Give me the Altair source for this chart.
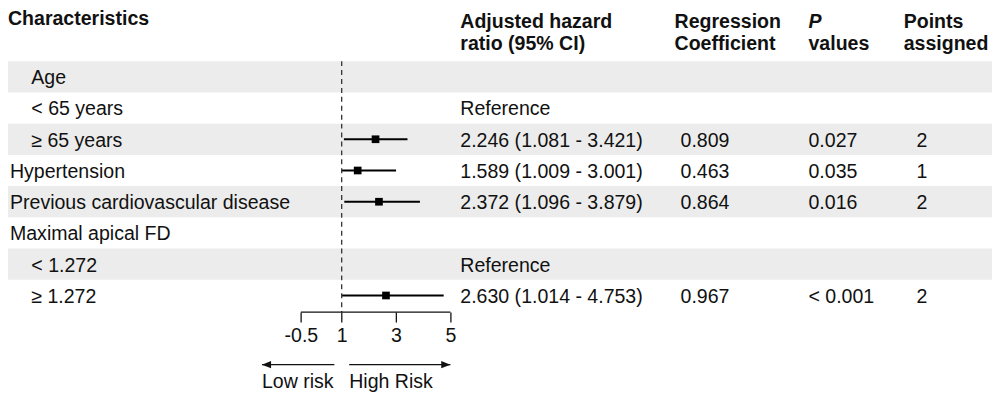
import altair as alt
import pandas as pd

# ---------------- data ----------------
labels = ["Age", "< 65 years", "≥ 65 years", "Hypertension",
          "Previous cardiovascular disease", "Maximal apical FD",
          "< 1.272", "≥ 1.272"]
level = [1, 1, 1, 0, 0, 0, 1, 1]
est = [None, None, 2.246, 1.589, 2.372, None, None, 2.630]
lo = [None, None, 1.081, 1.009, 1.096, None, None, 1.014]
hi = [None, None, 3.421, 3.001, 3.879, None, None, 4.753]
hr_text = ["", "Reference", "2.246 (1.081 - 3.421)", "1.589 (1.009 - 3.001)",
           "2.372 (1.096 - 3.879)", "", "Reference", "2.630 (1.014 - 4.753)"]
coef = ["", "", "0.809", "0.463", "0.864", "", "", "0.967"]
pval = ["", "", "0.027", "0.035", "0.016", "", "", "< 0.001"]
points = ["", "", "2", "1", "2", "", "", "2"]
shaded = [True, False, True, False, True, False, True, False]

header_first = "Characteristics"
header_line1 = ["Adjusted hazard", "Regression", "P", "Points"]
header_line2 = ["ratio (95% CI)", "Coefficient", "values", "assigned"]

tick_values = [-0.5, 1, 3, 5]
ref_value = 1
arrow_start = [0.73, 1.277]
arrow_end = [-1.934, 5.0]
arrow_labels = ["Low risk", "High Risk"]

# ---------------- styling ----------------
FONT = "Liberation Sans"
FS = 19.7
TXT = "#111111"
W, H = 992, 305
X = alt.Scale(domain=[-11.277, 24.927], nice=False, zero=False)
Y_TOP, Y_BOT = -2.1508, 7.5317
Y = alt.Scale(domain=[Y_TOP, Y_BOT], reverse=True, nice=False, zero=False)

n = len(labels)
df = pd.DataFrame({
    "row": list(range(n)),
    "label": labels,
    "level": level,
    "est": est,
    "lo": lo,
    "hi": hi,
    "hr": hr_text,
    "coef": coef,
    "pval": pval,
    "points": points,
    "shaded": shaded,
})
df["y0"] = df["row"] - 0.5
df["y1"] = df["row"] + 0.5

base = alt.Chart(df)

bands = base.transform_filter("datum.shaded").mark_rect(color="#ececec").encode(
    x=alt.value(0), x2=alt.value(W),
    y=alt.Y("y0:Q", scale=Y, axis=None), y2="y1:Q",
)

ci = base.transform_filter("isValid(datum.est)").mark_rule(
    color="#000000", strokeWidth=2
).encode(
    x=alt.X("lo:Q", scale=X, axis=alt.Axis(
        values=tick_values, domain=False, grid=False, ticks=True,
        tickSize=10, tickWidth=1.3, tickColor="#111111",
        labelFontSize=FS, labelFont=FONT, labelColor=TXT, labelPadding=4,
        labelExpr="'' + datum.value", labelOverlap=False, labelFlush=False,
        title=None)),
    x2="hi:Q",
    y=alt.Y("row:Q", scale=Y, axis=None),
)

sq = base.transform_filter("isValid(datum.est)").mark_square(
    size=60, color="#000000", opacity=1
).encode(
    x=alt.X("est:Q", scale=X),
    y=alt.Y("row:Q", scale=Y),
)

ref_df = pd.DataFrame({"x": [ref_value]})
ref_line = alt.Chart(ref_df).mark_rule(
    color="#333333", strokeWidth=1.3, strokeDash=[5, 4]
).encode(
    x=alt.X("x:Q", scale=X),
    y=alt.datum(-0.5), y2=alt.datum(Y_BOT),
)

axis_df = pd.DataFrame({"a": [min(tick_values)], "b": [max(tick_values)]})
axis_line = alt.Chart(axis_df).mark_rule(color="#111111", strokeWidth=1.3).encode(
    x=alt.X("a:Q", scale=X), x2="b:Q", y=alt.datum(Y_BOT),
)

arrow_df = pd.DataFrame({
    "start": arrow_start, "end": arrow_end, "label": arrow_labels,
    "dir": ["left", "right"],
})
arrow_df["textx"] = arrow_df[["start", "end"]].min(axis=1)
arrow_shaft = alt.Chart(arrow_df).mark_rule(color="#111111", strokeWidth=1.4).encode(
    x=alt.X("start:Q", scale=X), x2="end:Q", y=alt.value(358),
)
head_left = alt.Chart(arrow_df).transform_filter("datum.dir == 'left'").mark_point(
    shape="M0,0L2.3,-0.9L2.3,0.9Z", size=64, filled=True, color="#111111", opacity=1
).encode(x=alt.X("end:Q", scale=X), y=alt.value(358))
head_right = alt.Chart(arrow_df).transform_filter("datum.dir == 'right'").mark_point(
    shape="M0,0L-2.3,-0.9L-2.3,0.9Z", size=64, filled=True, color="#111111", opacity=1
).encode(x=alt.X("end:Q", scale=X), y=alt.value(358))
arrow_text = alt.Chart(arrow_df).mark_text(
    align="left", baseline="alphabetic", font=FONT, fontSize=FS, color=TXT
).encode(x=alt.X("textx:Q", scale=X), y=alt.value(382), text="label:N")


def col_text(field, xpx, filt=None):
    c = base
    if filt:
        c = c.transform_filter(filt)
    return c.mark_text(
        align="left", baseline="middle", dy=1.5, font=FONT, fontSize=FS, color=TXT
    ).encode(x=alt.value(xpx), y=alt.Y("row:Q", scale=Y), text=f"{field}:N")


lab0 = col_text("label", 2, "datum.level == 0")
lab1 = col_text("label", 23.5, "datum.level == 1")
hr_t = col_text("hr", 456)
coef_t = col_text("coef", 678)
p_t = col_text("pval", 807)
pts_t = col_text("points", 916)

one = pd.DataFrame({"k": [0]})


def head(text, xpx, ypx, italic=False):
    kw = dict(align="left", baseline="alphabetic", font=FONT, fontSize=FS,
              fontWeight="bold", color=TXT, text=text)
    if italic:
        kw["fontStyle"] = "italic"
    return alt.Chart(one).mark_text(**kw).encode(x=alt.value(xpx), y=alt.value(ypx))


head_x = [456, 672, 807, 903]
heads = [head(header_first, 0, 16)]
for i, (t1, t2) in enumerate(zip(header_line1, header_line2)):
    heads.append(head(t1, head_x[i], 19, italic=(t1 == "P")))
    heads.append(head(t2, head_x[i], 41))

chart = alt.layer(
    bands, ci, ref_line, axis_line, sq, arrow_shaft, head_left, head_right,
    arrow_text, lab0, lab1, hr_t, coef_t, p_t, pts_t, *heads
).properties(
    width=W, height=H, padding=0, background="white"
).configure_view(strokeWidth=0)

chart.save("out.html", embed_options={"renderer": "svg", "actions": False})
